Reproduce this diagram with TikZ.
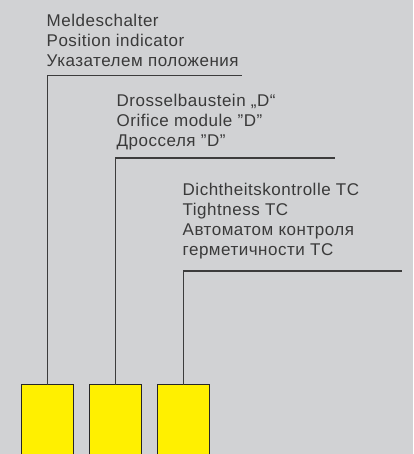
\documentclass[tikz,border=0pt]{standalone}
\usepackage{fontspec}
\setmainfont{Liberation Sans}[LetterSpace=3]
\definecolor{bgc}{HTML}{D1D2D4}
\definecolor{ylw}{HTML}{FFF000}
\definecolor{txt}{HTML}{3A3A3A}
\definecolor{lin}{HTML}{3C3C3C}
\begin{document}
\begin{tikzpicture}[x=1bp,y=-1bp,
  module/.style={draw=black!85,line width=1.2bp,fill=ylw,minimum width=52bp,minimum height=80bp,inner sep=0pt,anchor=north,outer sep=0pt},
  leader/.style={draw=lin,line width=1.5bp},
  label/.style={anchor=base west,inner sep=0pt,outer sep=0pt,align=left,text=txt,font=\fontsize{17bp}{20bp}\selectfont}]
\fill[bgc] (0,0) rectangle (413,454);
\useasboundingbox (0,0) rectangle (413,454);
\clip (0,0) rectangle (413,454);
\node[module] (b1) at (47.5,384.7) {};
\node[module] (b2) at (115.5,384.7) {};
\node[module] (b3) at (183.3,384.7) {};
\coordinate (e1) at (242,75.3);
\coordinate (e2) at (335,158);
\coordinate (e3) at (402,271);
\draw[leader] (b1.north) |- (e1);
\draw[leader] (b2.north) |- (e2);
\draw[leader] (b3.north) |- (e3);
\node[label] (t1) at (46.7,66.7) {Meldeschalter\\Position indicator\\Указателем положения};
\node[label] (t2) at (116.7,147) {Drosselbaustein „D“\\Orifice module ”D”\\Дросселя ”D”};
\node[label] (t3) at (182.7,255.5) {Dichtheitskontrolle TC\\Tightness TC\\Автоматом контроля\\герметичности TC};
\end{tikzpicture}
\end{document}
